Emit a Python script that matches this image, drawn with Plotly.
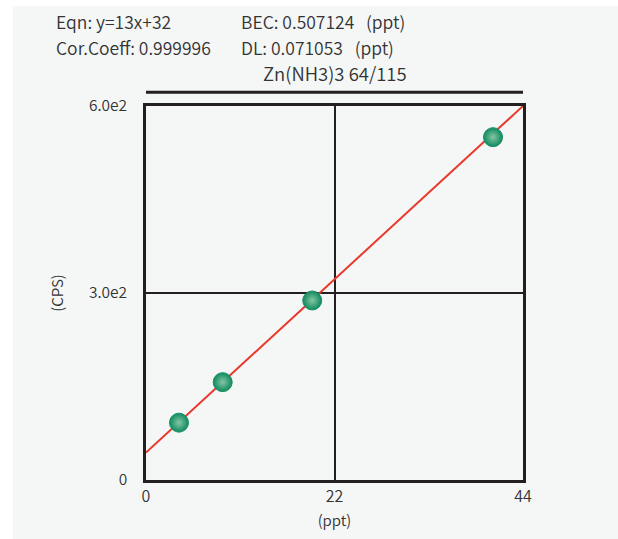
import plotly.graph_objects as go

# Data
std_conc = [3.85, 8.95, 19.4, 40.5]        # ppt
std_cps = [92, 157, 288, 550]              # CPS
fit_x = [0, 44]
fit_y = [44, 600]
x_ticks = [0, 22, 44]
x_tick_text = ["0", "22", "44"]
y_ticks = [0, 300, 600]
y_tick_text = ["0", "3.0e2", "6.0e2"]
title_text = "Zn(NH3)3 64/115"
info_lines = [
    ("Eqn: y=13x+32", "BEC: 0.507124   (ppt)"),
    ("Cor.Coeff: 0.999996", "DL: 0.071053   (ppt)"),
]

FONT = "Noto Sans CJK SC"
TXT = "#333333"
WT = 350
W, H = 618, 539
ml, mr, mt, mb = 146, 95, 106, 55
pw, ph = W - ml - mr, H - mt - mb

def px_x(p):
    return (p - ml) / pw

def px_y(p):
    return (H - mb - p) / ph

fig = go.Figure()
fig.add_trace(go.Scatter(x=fit_x, y=fit_y, mode="lines",
                         line=dict(color="#e8392b", width=2), hoverinfo="skip"))
fig.add_trace(go.Scatter(x=std_conc, y=std_cps, mode="markers",
                         marker=dict(size=19, color="#0f8a5e",
                                     gradient=dict(type="radial", color="#86c6a5"),
                                     line=dict(color="#16906a", width=1))))

shapes = [
    dict(type="rect", xref="paper", yref="paper", x0=px_x(13), x1=px_x(W + 5),
         y0=px_y(H + 5), y1=px_y(5), fillcolor="#f5f7f7", line=dict(width=0), layer="below"),
    dict(type="line", xref="paper", yref="paper", x0=0, x1=1,
         y0=px_y(92), y1=px_y(92), line=dict(color="#231f20", width=3)),
]

annotations = [
    dict(text=title_text, xref="paper", yref="paper", x=0.5, y=px_y(73),
         xanchor="center", yanchor="middle", showarrow=False,
         font=dict(family=FONT, size=18.5, color=TXT, weight=WT)),
]
for i, (a, b) in enumerate(info_lines):
    yy = px_y(21 + 26 * i)
    annotations.append(dict(text=a, xref="paper", yref="paper", x=px_x(54), y=yy,
                            xanchor="left", yanchor="middle", showarrow=False,
                            font=dict(family=FONT, size=17.5, color=TXT, weight=WT)))
    annotations.append(dict(text=b, xref="paper", yref="paper", x=px_x(239), y=yy,
                            xanchor="left", yanchor="middle", showarrow=False,
                            font=dict(family=FONT, size=17.5, color=TXT, weight=WT)))

fig.update_layout(
    width=W, height=H,
    margin=dict(l=ml, r=mr, t=mt, b=mb),
    paper_bgcolor="white", plot_bgcolor="white",
    showlegend=False,
    shapes=shapes, annotations=annotations,
    font=dict(family=FONT, color=TXT, weight=WT),
    xaxis=dict(range=[0, 44], tickvals=x_ticks, ticktext=x_tick_text,
               showgrid=True, gridcolor="#231f20", gridwidth=2,
               showline=True, linecolor="#231f20", linewidth=2.5, mirror=True,
               zeroline=False, ticks="", tickfont=dict(size=16, color=TXT, weight=WT),
               title=dict(text="(ppt)", font=dict(size=15, color=TXT, weight=WT), standoff=10)),
    yaxis=dict(range=[0, 600], tickvals=y_ticks, ticktext=y_tick_text,
               showgrid=True, gridcolor="#231f20", gridwidth=2,
               showline=True, linecolor="#231f20", linewidth=2.5, mirror=True,
               zeroline=False, ticks="", tickfont=dict(size=15.5, color=TXT, weight=WT),
               ticklabelstandoff=13,
               title=dict(text="(CPS)", font=dict(size=15, color=TXT, weight=WT), standoff=22)),
)

fig.write_html("out.html")
